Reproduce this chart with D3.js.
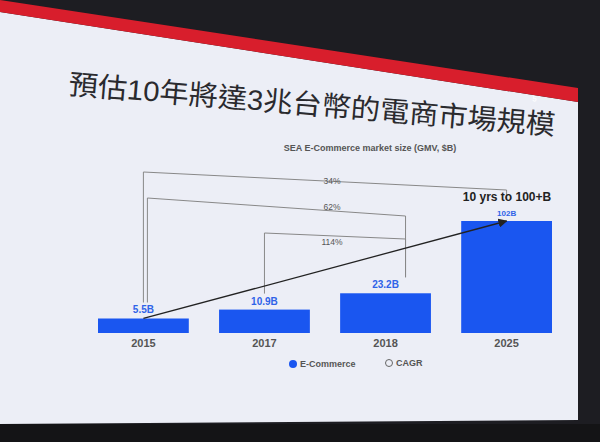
<!DOCTYPE html>
<html>
<head>
<meta charset="utf-8">
<script src="https://cdn.jsdelivr.net/npm/d3@7"></script>
<style>
  body { margin: 0; background: #1d1d22; }
  text { font-family: "Liberation Sans", Arial, "Noto Sans CJK TC", sans-serif; }
</style>
</head>
<body>
<svg id="chart" width="600" height="442"></svg>
<script>
const years = ['2015', '2017', '2018', '2025'];
const gmv = [5.5, 10.9, 23.2, 102];
const valueLabels = ['5.5B', '10.9B', '23.2B', '102B'];
// CAGR brackets: [from index, to index, label]
const cagr = [[0, 3, '34%'], [0, 2, '62%'], [1, 2, '114%']];

const svg = d3.select('#chart');

// slide background
svg.append('polygon')
  .attr('points', '0,12 578,102 578,420 0,424')
  .attr('fill', '#eceef6');
svg.append('polygon')
  .attr('points', '0,0 578,88 578,102 0,12')
  .attr('fill', '#d81e2c');
svg.append('text').attr('x', 532).attr('y', 101).attr('font-size', 8).attr('fill', '#fff')
  .attr('transform', 'rotate(9 532 101)').text('5');
svg.append('rect').attr('x', 0).attr('y', 424).attr('width', 600).attr('height', 18).attr('fill', '#141416');

svg.append('text')
  .attr('x', 68).attr('y', 94)
  .attr('transform', 'rotate(4.8 68 94)')
  .attr('font-family', 'Noto Sans CJK TC')
  .attr('font-size', 28)
  .attr('textLength', 488).attr('lengthAdjust', 'spacingAndGlyphs')
  .attr('fill', '#2a2a2e')
  .text('預估10年將達3兆台幣的電商市場規模');

svg.append('text')
  .attr('x', 370).attr('y', 151)
  .attr('text-anchor', 'middle')
  .attr('font-size', 9).attr('font-weight', 'bold')
  .attr('fill', '#555')
  .text('SEA E-Commerce market size (GMV, $B)');

const baseY = 333;
const x = d3.scaleBand().domain(years).range([98, 552]).paddingInner(0.25).paddingOuter(0);
const y = d3.scalePow().exponent(0.7).domain([0, 102]).range([baseY, 221]);

svg.selectAll('rect.bar')
  .data(gmv)
  .join('rect')
  .attr('class', 'bar')
  .attr('x', (d, i) => x(years[i]))
  .attr('width', x.bandwidth())
  .attr('y', d => y(d))
  .attr('height', d => baseY - y(d))
  .attr('fill', '#1a56f0');

svg.selectAll('text.val')
  .data(gmv)
  .join('text')
  .attr('class', 'val')
  .attr('x', (d, i) => x(years[i]) + x.bandwidth() / 2)
  .attr('y', d => y(d) - 5)
  .attr('text-anchor', 'middle')
  .attr('font-size', (d, i) => i === 3 ? 8 : 10)
  .attr('font-weight', 'bold')
  .attr('fill', '#2f63e8')
  .text((d, i) => valueLabels[i]);

svg.selectAll('text.yr')
  .data(years)
  .join('text')
  .attr('class', 'yr')
  .attr('x', d => x(d) + x.bandwidth() / 2)
  .attr('y', baseY + 14)
  .attr('text-anchor', 'middle')
  .attr('font-size', 11).attr('font-weight', 'bold')
  .attr('fill', '#555')
  .text(d => d);

// brackets
const cx = d => x(years[d]) + x.bandwidth() / 2;
const topY = [172, 198, 233];
cagr.forEach(([a, b, lab], k) => {
  const x1 = cx(a) + (k === 1 ? 4 : 0), x2 = cx(b) + (b === 2 ? 20 : 0);
  const t = topY[k];
  const y1 = y(gmv[a]) - 16, y2 = b === 3 ? t + 28 : y(gmv[b]) - 16;
  svg.append('path')
    .attr('d', `M${x1},${y1} V${t} L${x2},${t + (k === 2 ? 6 : 18)} V${y2}`)
    .attr('fill', 'none').attr('stroke', '#888').attr('stroke-width', 1);
  svg.append('text')
    .attr('x', 332).attr('y', t + 12)
    .attr('text-anchor', 'middle')
    .attr('font-size', 8.5).attr('fill', '#555')
    .text(lab);
});

svg.append('defs').append('marker')
  .attr('id', 'ah').attr('viewBox', '0 0 10 10').attr('refX', 9).attr('refY', 5)
  .attr('markerWidth', 7).attr('markerHeight', 7).attr('orient', 'auto')
  .append('path').attr('d', 'M0,0 L10,5 L0,10 z').attr('fill', '#222');
svg.append('line')
  .attr('x1', cx(0)).attr('y1', y(gmv[0]))
  .attr('x2', cx(3)).attr('y2', y(gmv[3]))
  .attr('stroke', '#222').attr('stroke-width', 1.3)
  .attr('marker-end', 'url(#ah)');

svg.append('text')
  .attr('x', 507).attr('y', 201)
  .attr('text-anchor', 'middle')
  .attr('font-size', 12).attr('font-weight', 'bold').attr('fill', '#222')
  .text('10 yrs to 100+B');

// legend
const lg = svg.append('g').attr('font-size', 9).attr('font-weight', 'bold').attr('fill', '#555');
lg.append('circle').attr('cx', 293).attr('cy', 364).attr('r', 4).attr('fill', '#1a56f0');
lg.append('text').attr('x', 300).attr('y', 367).text('E-Commerce');
lg.append('circle').attr('cx', 389).attr('cy', 363).attr('r', 3.5).attr('fill', 'none').attr('stroke', '#666');
lg.append('text').attr('x', 396).attr('y', 366).text('CAGR');
</script>
</body>
</html>
